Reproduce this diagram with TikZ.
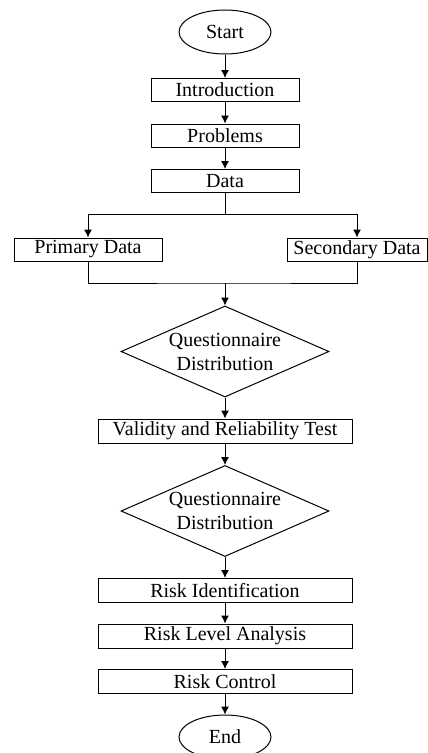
\documentclass[tikz,border=0pt]{standalone}
\usepackage{fontspec}
\setmainfont{Liberation Serif}
\usetikzlibrary{arrows.meta,shapes.geometric}
\tikzset{> = {Latex[length=6pt,width=6pt]}}
\tikzset{
  term/.style={draw, ellipse, minimum width=69pt, minimum height=33pt, inner sep=0pt},
  stepbox/.style={draw, rectangle, minimum width=111pt, minimum height=17.25pt, inner sep=0pt},
  widebox/.style={stepbox, minimum width=190.5pt, minimum height=18pt},
  decide/.style={draw, diamond, aspect=2.29, minimum width=156pt, minimum height=68.25pt, inner sep=0pt, align=center}
}

\begin{document}
\begin{tikzpicture}[x=0.75pt, y=-0.75pt, line width=0.75pt, font=\fontsize{15}{18}\selectfont]
		\useasboundingbox (0,0) rectangle (428,753);
		\node[term] (start) at (225,32) {Start};
		\node[stepbox] (intro) at (225,90) {Introduction};
		\node[stepbox] (problems) at (225,135.5) {Problems};
		\node[stepbox] (data) at (225,181) {Data};
		\node[stepbox] (primary) at (88,249.5) {Primary Data};
		\node[stepbox, minimum width=105pt] (secondary) at (357,249.5) {Secondary Data};
		\node[decide] (quest1) at (225,351.5) {Questionnaire\\Distribution};
		\node[widebox] (valid) at (225,431) {Validity and Reliability Test};
		\node[decide] (quest2) at (225,511) {Questionnaire\\Distribution};
		\node[widebox] (riskid) at (225,590.5) {Risk Identification};
		\node[widebox] (risklevel) at (225,636) {Risk Level Analysis};
		\node[widebox] (riskctrl) at (225,681.5) {Risk Control};
		\node[term] (end) at (225,737) {End};
		\coordinate (split) at (225,214);
		\coordinate (merge) at (225,283);
		\draw[->] (start) -- (intro);
		\draw[->] (intro) -- (problems);
		\draw[->] (problems) -- (data);
		\draw (data) -- (split);
		\draw[->] (split) -| (primary);
		\draw[->] (split) -| (secondary);
		\draw (primary) |- (merge) -| (secondary);
		\draw[->] (merge) -- (quest1);
		\draw[->] (quest1) -- (valid);
		\draw[->] (valid) -- (quest2);
		\draw[->] (quest2) -- (riskid);
		\draw[->] (riskid) -- (risklevel);
		\draw[->] (risklevel) -- (riskctrl);
		\draw[->] (riskctrl) -- (end);
\end{tikzpicture}
\end{document}
